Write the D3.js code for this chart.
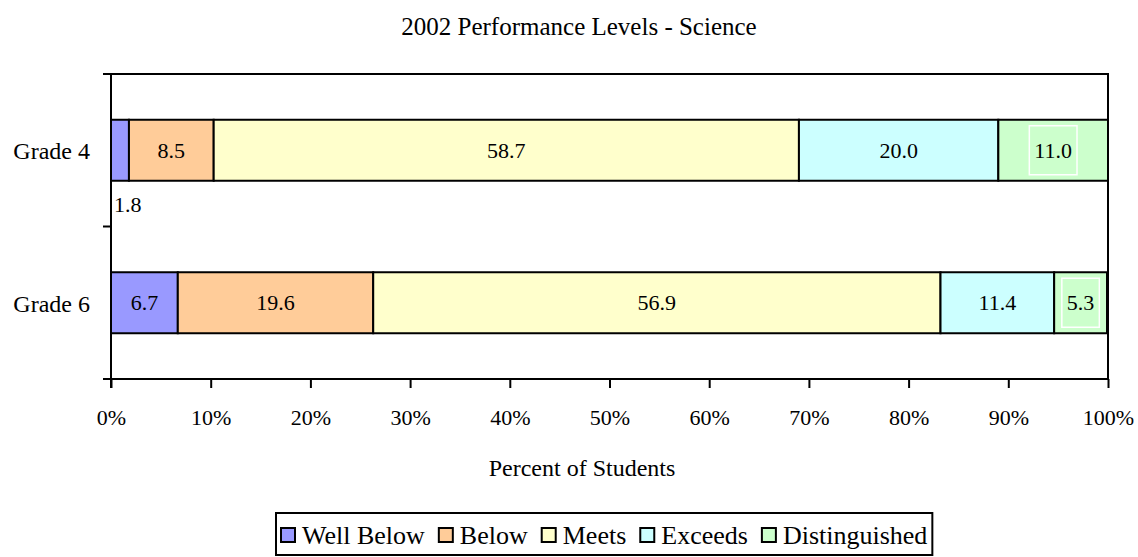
<!DOCTYPE html>
<html>
<head>
<meta charset="utf-8">
<script src="https://cdn.jsdelivr.net/npm/d3@7"></script>
<style>
    body { margin: 0; background: #fff; }
    svg { font-family: "Liberation Serif", "Times New Roman", serif; }
</style>
</head>
<body>
<svg id="chart"></svg>
<script>
const grades = ["Grade 4", "Grade 6"];
const levels = ["Well Below", "Below", "Meets", "Exceeds", "Distinguished"];
const levelColors = ["#9999FF", "#FFCC99", "#FFFFCC", "#CCFFFF", "#CCFFCC"];
const grade4 = [1.8, 8.5, 58.7, 20.0, 11.0];
const grade6 = [6.7, 19.6, 56.9, 11.4, 5.3];
const xTicks = [0, 10, 20, 30, 40, 50, 60, 70, 80, 90, 100];

const width = 1138, height = 557;
const margin = {top: 74, right: 30, bottom: 178, left: 111};

const svg = d3.select("#chart")
                .attr("width", width)
                .attr("height", height);

const x = d3.scaleLinear()
            .domain([0, 100])
            .range([margin.left, width - margin.right]);

const y = d3.scaleBand()
            .domain(grades)
            .range([margin.top, height - margin.bottom]);

const barH = y.bandwidth() * 0.4;

// title
svg.append("text")
    .attr("x", 579)
    .attr("y", 26)
    .attr("text-anchor", "middle")
    .attr("dominant-baseline", "central")
    .style("font-size", "25px")
    .text("2002 Performance Levels - Science");

// plot frame (top and right)
svg.append("path")
    .attr("d", `M${x(0) - 8},${margin.top}H${x(100)}V${y.range()[1]}`)
    .attr("fill", "none")
    .attr("stroke", "#000")
    .attr("stroke-width", 2);

// stacked rows
const rows = [grade4, grade6].map((vals, gi) => {
    let acc = 0;
    return vals.map((v, li) => {
        const seg = {grade: grades[gi], level: li, value: v, x0: acc, x1: acc + v};
        acc += v;
        return seg;
    });
});

const segs = rows.flat();

svg.selectAll("rect.bar")
    .data(segs)
    .enter()
    .append("rect")
    .attr("class", "bar")
    .attr("x", d => x(d.x0))
    .attr("y", d => y(d.grade) + (y.bandwidth() - barH) / 2)
    .attr("width", d => x(d.x1) - x(d.x0))
    .attr("height", barH)
    .attr("fill", d => levelColors[d.level])
    .attr("stroke", "#000")
    .attr("stroke-width", 2);

// data labels
segs.forEach(d => {
    const cy = y(d.grade) + y.bandwidth() / 2;
    const narrow = x(d.x1) - x(d.x0) < 30;
    const g = svg.append("g");
    const t = g.append("text")
        .style("font-size", "22px")
        .attr("dominant-baseline", "central")
        .text(d.value.toFixed(1));
    if (narrow) {
        // label that does not fit sits under the bar
        t.attr("x", x(d.x0) + 3).attr("y", cy + barH / 2 + 24);
        return;
    }
    let cx = x((d.x0 + d.x1) / 2);
    t.attr("text-anchor", "middle").attr("x", cx).attr("y", cy);
    if (d.level === 4) {
        const bw = t.node().getBBox().width + 10, bh = barH - 12;
        let bx = cx - bw / 2;
        if (bx + bw > x(100) - 2) {
            bx = x(100) - 2 - bw;
            t.attr("x", bx + bw / 2);
        }
        g.insert("rect", "text")
            .attr("x", bx).attr("y", cy - bh / 2)
            .attr("width", bw).attr("height", bh)
            .attr("fill", "none")
            .attr("stroke", "#fff")
            .attr("stroke-width", 1.5);
    }
});

// y axis
const yBottom = y.range()[1];
svg.append("line")
    .attr("x1", x(0)).attr("x2", x(0))
    .attr("y1", margin.top).attr("y2", yBottom + 9)
    .attr("stroke", "#000").attr("stroke-width", 2);

svg.selectAll("line.ytick")
    .data([margin.top, y(grades[1]), yBottom])
    .enter()
    .append("line")
    .attr("class", "ytick")
    .attr("x1", x(0) - 8).attr("x2", x(0))
    .attr("y1", d => d).attr("y2", d => d)
    .attr("stroke", "#000").attr("stroke-width", 2);

svg.selectAll("text.ylab")
    .data(grades)
    .enter()
    .append("text")
    .attr("class", "ylab")
    .attr("x", 90)
    .attr("y", d => y(d) + y.bandwidth() / 2 + 1)
    .attr("text-anchor", "end")
    .attr("dominant-baseline", "central")
    .style("font-size", "24px")
    .text(d => d);

// x axis
const xAxis = d3.axisBottom(x)
                .tickValues(xTicks)
                .tickSize(9)
                .tickPadding(21)
                .tickFormat(d => d + "%");

const gx = svg.append("g")
    .attr("transform", `translate(0,${yBottom})`)
    .call(xAxis);

gx.select(".domain").remove();
gx.append("line")
    .attr("x1", x(0) - 8).attr("x2", x(100))
    .attr("stroke", "#000").attr("stroke-width", 2);
gx.selectAll(".tick line").attr("stroke", "#000").attr("stroke-width", 2);
gx.selectAll(".tick text")
    .attr("fill", "#000")
    .style("font-family", "Liberation Serif, serif")
    .style("font-size", "22px");

svg.append("text")
    .attr("x", 582)
    .attr("y", 468)
    .attr("text-anchor", "middle")
    .attr("dominant-baseline", "central")
    .style("font-size", "24px")
    .text("Percent of Students");

// legend, laid out item after item
const legend = svg.append("g");
const legendBox = legend.append("rect")
    .attr("y", 513)
    .attr("height", 42)
    .attr("fill", "#fff")
    .attr("stroke", "#000")
    .attr("stroke-width", 2);

const legendLeft = 276;
let lx = legendLeft + 5;
levels.forEach((name, i) => {
    const item = legend.append("g").attr("transform", `translate(${lx},535)`);
    item.append("rect")
        .attr("x", 0).attr("y", -7)
        .attr("width", 14).attr("height", 14)
        .attr("fill", levelColors[i])
        .attr("stroke", "#000")
        .attr("stroke-width", 2);
    const t = item.append("text")
        .attr("x", 21)
        .attr("dominant-baseline", "central")
        .style("font-size", "26px")
        .text(name);
    lx += 21 + t.node().getComputedTextLength() + 14;
});

legendBox.attr("x", legendLeft).attr("width", lx - legendLeft - 9);
</script>
</body>
</html>
